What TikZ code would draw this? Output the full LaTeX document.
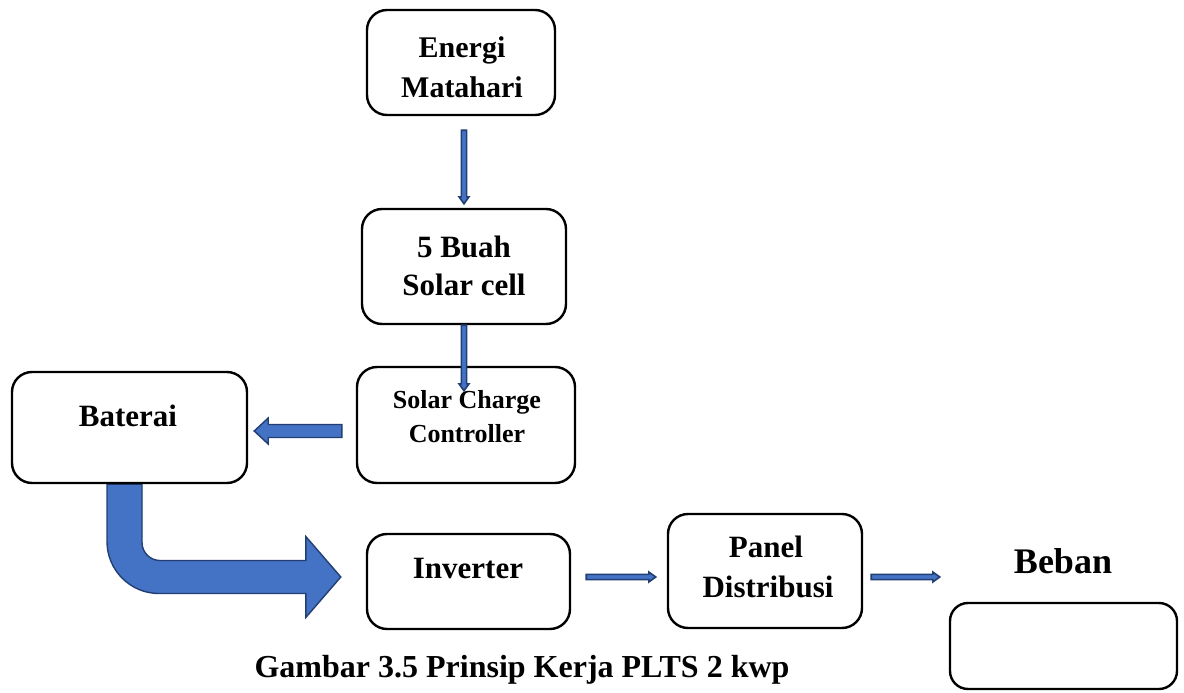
\documentclass[tikz,border=0pt]{standalone}
\usepackage{fontspec}
\setmainfont{Liberation Serif}
\usetikzlibrary{calc,backgrounds}
\definecolor{flowfill}{HTML}{4472C4}
\definecolor{flowedge}{HTML}{213F73}
\tikzset{
  blockbox/.style={draw=black, line width=2.4pt, rounded corners=20pt, fill=white, inner sep=0pt},
  lbl/.style={anchor=base, inner sep=0pt, font=\bfseries\fontsize{#1}{#1}\selectfont},
  flowarrow/.style={fill=flowfill, draw=flowedge, line width=1.4pt, line join=miter},
  thinarrow/.style={fill=flowfill, draw=flowedge, line width=1.6pt, line join=miter},
}
% thin block arrow from #1 to #2 (tip at #2)
\newcommand\thinflow[2]{%
  \path[thinarrow] let \p1=(#1), \p2=(#2),
      \n1={atan2(\y2-\y1,\x2-\x1)}, \n2={veclen(\x2-\x1,\y2-\y1)} in
    [shift={(\p1)}, rotate=\n1]
    (0,-2.6) -- (\n2-7,-2.6) -- (\n2-7,-5) -- (\n2,0) -- (\n2-7,5) -- (\n2-7,2.6) -- (0,2.6) -- cycle;}

\begin{document}
\begin{tikzpicture}[x=1pt, y=-1pt]
\useasboundingbox (0,0) rectangle (1184,693);

% blocks
\node[blockbox, minimum width=188pt, minimum height=105pt] (energi) at (461,62.5) {};
\node[blockbox, minimum width=204pt, minimum height=115pt] (solar)  at (464,266.5) {};
\node[blockbox, minimum width=218pt, minimum height=116pt] (scc)    at (466,425) {};
\node[blockbox, minimum width=235pt, minimum height=111pt] (bat)    at (129.5,427.5) {};
\node[blockbox, minimum width=203pt, minimum height=95pt]  (inv)    at (468.5,581.5) {};
\node[blockbox, minimum width=194pt, minimum height=114pt] (panel)  at (765,571) {};
\node[blockbox, minimum width=227pt, minimum height=86pt, rounded corners=18pt] (beban) at (1063.5,646) {};

% labels
\node[lbl=30] (t1) at (462,58) {Energi};
\node[lbl=30] (t2) at (462,98) {Matahari};
\node[lbl=31] (t3) at (464,257) {5 Buah};
\node[lbl=31] (t4) at (464,295) {Solar cell};
\node[lbl=26] (t5) at (467,408) {Solar Charge};
\node[lbl=26] (t6) at (467,442) {Controller};
\node[lbl=31] (t7) at (128,426) {Baterai};
\node[lbl=31] (t8) at (468,578) {Inverter};
\node[lbl=31] (t9) at (766,557) {Panel};
\node[lbl=31] (t10) at (768,597) {Distribusi};
\node[lbl=36] (t11) at (1063,573) {Beban};
\node[lbl=32] (cap) at (522,677) {Gambar 3.5 Prinsip Kerja PLTS 2 kwp};

% thin flow arrows
\thinflow{$(energi.south)+(3,14)$}{$(solar.north)+(0,-4)$}
\thinflow{$(solar.south)$}{$(scc.north)+(-2,25)$}
\thinflow{$(inv.east)+(15,-4.5)$}{$(panel.west)+(-11,6)$}
\thinflow{$(panel.east)+(8,6)$}{$(panel.east -| beban.west)+(-9,6)$}

% controller to battery
\coordinate (a0) at ($(scc.west)+(-14,6)$);
\coordinate (a1) at ($(bat.east)+(6,3.5)$);
\path[flowarrow] ($(a0)+(0,-6.5)$) -- ($(a1)+(14,-6.5)$) -- ($(a1)+(14,-13)$) -- (a1)
  -- ($(a1)+(14,13)$) -- ($(a1)+(14,6.5)$) -- ($(a0)+(0,6.5)$) -- cycle;

% battery to inverter, bent arrow
\begin{scope}[on background layer]
\coordinate (b0) at ($(bat.south)+(-5,0)$);
\coordinate (b1) at ($(inv.west)+(-25,-4.5)$);
\coordinate (bc) at (b0|-b1);
\path[flowarrow] ($(b0)+(-17.5,0)$) -- ($(bc)+(-17.5,-35.5)$)
  .. controls ($(bc)+(-17.5,-6.8)$) and ($(bc)+(5.8,16.5)$) .. ($(bc)+(34.5,16.5)$)
  -- ($(b1)+(-35,16.5)$) -- ($(b1)+(-35,40.5)$) -- (b1) -- ($(b1)+(-35,-40.5)$)
  -- ($(b1)+(-35,-16.5)$) -- ($(bc)+(35.5,-16.5)$)
  .. controls ($(bc)+(25.6,-16.5)$) and ($(bc)+(17.5,-24.6)$) .. ($(bc)+(17.5,-34.5)$)
  -- ($(b0)+(17.5,0)$) -- cycle;
\end{scope}
\end{tikzpicture}
\end{document}
